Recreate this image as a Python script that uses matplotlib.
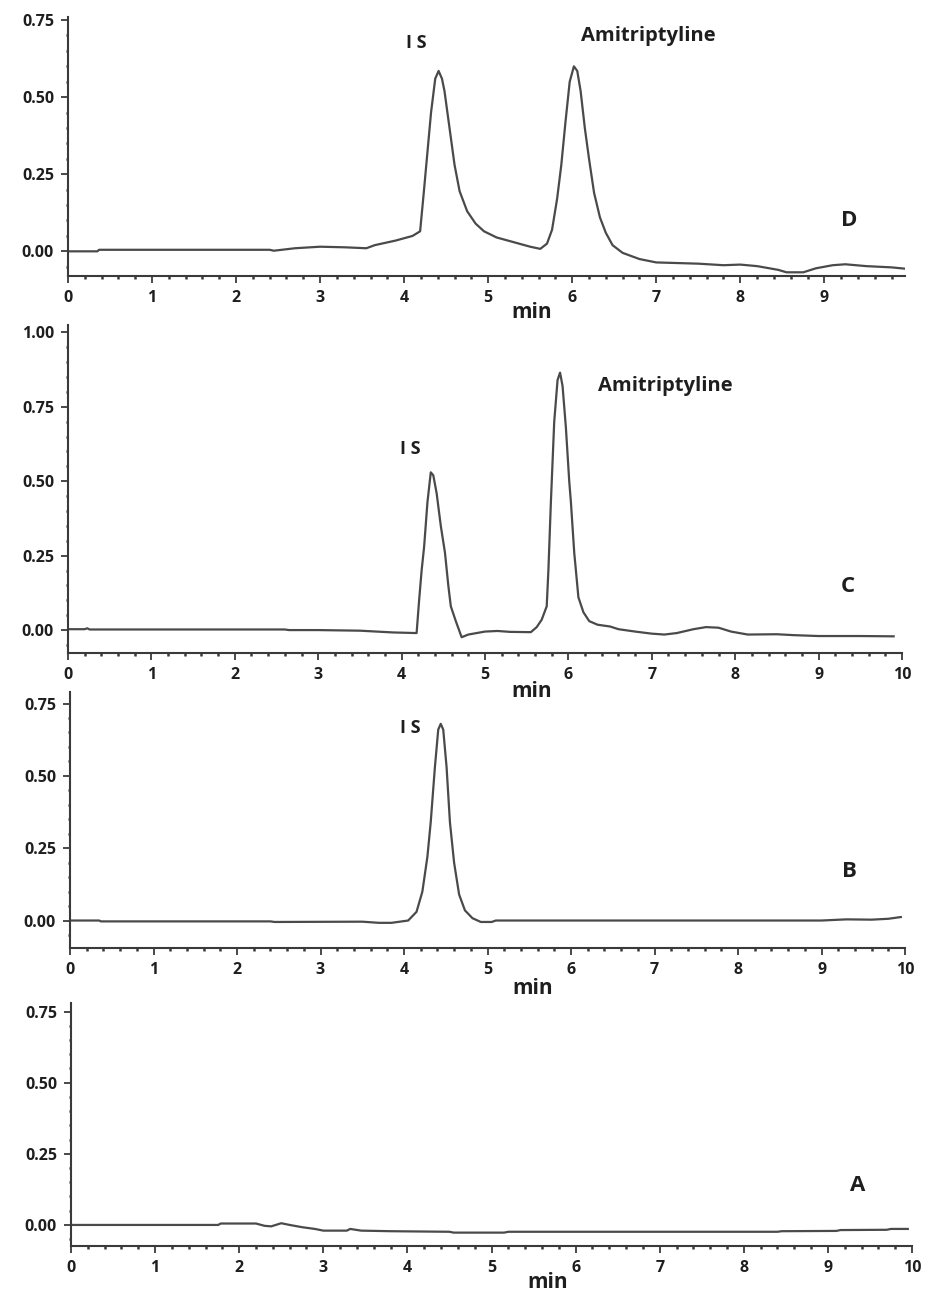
import matplotlib
matplotlib.use("Agg")
import matplotlib.pyplot as plt
from matplotlib.ticker import MultipleLocator, FormatStrFormatter

# ---------------- data ----------------
# Panel D
d_time = [0.0, 0.35, 0.37, 2.4, 2.45, 2.7, 3.0, 3.3, 3.55, 3.65, 3.9, 4.1, 4.19,
          4.23, 4.27, 4.32, 4.37, 4.41, 4.45, 4.48, 4.54, 4.60, 4.66, 4.75, 4.85,
          4.95, 5.1, 5.3, 5.5, 5.62, 5.70, 5.76, 5.82, 5.87, 5.92, 5.97, 6.02,
          6.06, 6.10, 6.15, 6.20, 6.26, 6.33, 6.40, 6.48, 6.6, 6.8, 7.0, 7.5,
          7.8, 8.0, 8.2, 8.45, 8.55, 8.75, 8.9, 9.1, 9.25, 9.5, 9.8, 9.95]
d_signal = [0.0, 0.0, 0.005, 0.005, 0.002, 0.01, 0.015, 0.013, 0.01, 0.02, 0.035, 0.05, 0.065,
            0.18, 0.30, 0.45, 0.56, 0.585, 0.56, 0.52, 0.40, 0.28, 0.195, 0.13, 0.09,
            0.065, 0.045, 0.03, 0.015, 0.008, 0.025, 0.07, 0.17, 0.28, 0.42, 0.55, 0.60,
            0.585, 0.52, 0.40, 0.30, 0.19, 0.11, 0.06, 0.02, -0.005, -0.025, -0.036, -0.04,
            -0.045, -0.043, -0.048, -0.06, -0.068, -0.068, -0.055, -0.045, -0.042, -0.048, -0.052, -0.056]

# Panel C
c_time = [0.0, 0.2, 0.23, 0.26, 2.6, 2.65, 3.0, 3.5, 3.9, 4.18, 4.21, 4.24, 4.27,
          4.31, 4.35, 4.38, 4.42, 4.47, 4.52, 4.56, 4.59, 4.65, 4.72, 4.8, 5.0,
          5.15, 5.3, 5.55, 5.62, 5.68, 5.74, 5.76, 5.79, 5.83, 5.87, 5.90, 5.93,
          5.97, 6.01, 6.03, 6.07, 6.12, 6.18, 6.25, 6.35, 6.5, 6.6, 6.8, 7.0,
          7.15, 7.3, 7.5, 7.65, 7.8, 7.95, 8.15, 8.5, 8.7, 9.0, 9.5, 9.9]
c_signal = [0.003, 0.003, 0.006, 0.002, 0.002, 0.0, 0.0, -0.002, -0.008, -0.01, 0.1, 0.2, 0.28,
            0.43, 0.53, 0.52, 0.46, 0.35, 0.26, 0.15, 0.08, 0.03, -0.024, -0.015, -0.005,
            -0.003, -0.006, -0.007, 0.01, 0.035, 0.08, 0.2, 0.43, 0.7, 0.84, 0.865, 0.82,
            0.68, 0.5, 0.43, 0.26, 0.11, 0.06, 0.03, 0.018, 0.012, 0.003, -0.005, -0.012,
            -0.015, -0.01, 0.003, 0.01, 0.008, -0.005, -0.015, -0.014, -0.017, -0.02, -0.02, -0.021]

# Panel B
b_time = [0.0, 0.35, 0.37, 2.4, 2.45, 3.5, 3.7, 3.85, 3.95, 4.05, 4.15, 4.22, 4.28,
          4.32, 4.37, 4.41, 4.44, 4.47, 4.51, 4.55, 4.60, 4.66, 4.73, 4.82, 4.92,
          5.05, 5.1, 8.0, 9.0, 9.3, 9.6, 9.8, 9.95]
b_signal = [0.0, 0.0, -0.003, -0.003, -0.005, -0.004, -0.008, -0.008, -0.004, 0.0, 0.03, 0.1, 0.22,
            0.34, 0.53, 0.66, 0.68, 0.66, 0.53, 0.34, 0.2, 0.09, 0.035, 0.008, -0.005,
            -0.005, 0.0, 0.0, 0.0, 0.004, 0.003, 0.006, 0.012]

# Panel A
a_time = [0.0, 1.75, 1.78, 2.2, 2.3, 2.38, 2.5, 2.6, 2.75, 2.9, 3.0, 3.28, 3.32,
          3.45, 3.8, 4.5, 4.55, 5.15, 5.2, 8.4, 8.45, 9.1, 9.15, 9.7, 9.75, 9.95]
a_signal = [0.0, 0.0, 0.005, 0.005, -0.003, -0.005, 0.006, 0.0, -0.008, -0.014, -0.02, -0.02, -0.014,
            -0.02, -0.022, -0.024, -0.027, -0.027, -0.024, -0.024, -0.022, -0.021, -0.018, -0.017, -0.014, -0.014]

panel_letters = ["D", "C", "B", "A"]
x_label = "min"
is_label = "I S"
ami_label = "Amitriptyline"

# ---------------- layout ----------------
W, H = 929, 1292
fig = plt.figure(figsize=(W / 100, H / 100), dpi=100)

def px_axes(left, right, top, bottom):
    return fig.add_axes([left / W, 1 - bottom / H, (right - left) / W, (bottom - top) / H])

line_col = "#4a4a4a"
spine_col = "#3a3a3a"
text_col = "#1e1e1e"
tick_family = "Open Sans"
tick_size = 11.5
ann_font = dict(family="Open Sans", weight="bold")

panels = [
    dict(t=d_time, s=d_signal, box=(68, 905, 17, 276), xlim=(0, 9.96), ylim=(-0.08, 0.76),
         ymax=0.75, letter=(9.3, 0.10), minx=5.52, mindy=36,
         is_pos=(4.15, 0.677), ami_pos=(6.9, 0.70)),
    dict(t=c_time, s=c_signal, box=(68, 902, 325, 653), xlim=(0, 10), ylim=(-0.077, 1.025),
         ymax=1.0, letter=(9.35, 0.145), minx=5.56, mindy=39,
         is_pos=(4.1, 0.61), ami_pos=(7.16, 0.82)),
    dict(t=b_time, s=b_signal, box=(70, 905, 692, 948), xlim=(0, 10), ylim=(-0.095, 0.79),
         ymax=0.75, letter=(9.34, 0.17), minx=5.54, mindy=40,
         is_pos=(4.08, 0.667), ami_pos=None),
    dict(t=a_time, s=a_signal, box=(71, 912, 1003, 1246), xlim=(0, 10), ylim=(-0.074, 0.78),
         ymax=0.75, letter=(9.36, 0.14), minx=5.67, mindy=37,
         is_pos=None, ami_pos=None),
]

for p, letter in zip(panels, panel_letters):
    ax = px_axes(*p["box"])
    ax.patch.set_visible(False)
    ax.plot(p["t"], p["s"], color=line_col, lw=1.6, solid_joinstyle="round")
    ax.set_xlim(*p["xlim"])
    for side in ("top", "right"):
        ax.spines[side].set_visible(False)
    for side in ("left", "bottom"):
        ax.spines[side].set_color(spine_col)
        ax.spines[side].set_linewidth(1.5)
    ax.xaxis.set_major_locator(MultipleLocator(1))
    ax.xaxis.set_minor_locator(MultipleLocator(0.2))
    ax.set_yticks([v * 0.25 for v in range(int(round(p["ymax"] / 0.25)) + 1)])
    ax.yaxis.set_minor_locator(MultipleLocator(0.05))
    ax.set_ylim(*p["ylim"])
    ax.yaxis.set_major_formatter(FormatStrFormatter("%.2f"))
    ax.xaxis.set_major_formatter(FormatStrFormatter("%d"))
    ax.tick_params(axis="both", which="major", direction="out", length=5, width=1.3,
                   color=spine_col, pad=5, labelsize=tick_size, labelcolor=text_col)
    ax.tick_params(axis="both", which="minor", direction="out", length=1.8, width=1.8,
                   color=spine_col)
    for lab in ax.get_xticklabels() + ax.get_yticklabels():
        lab.set_fontfamily(tick_family)
        lab.set_fontweight("bold")
    # x label "min"
    ax.annotate(x_label, xy=(p["minx"], 0), xycoords=("data", "axes fraction"),
                xytext=(0, -p["mindy"] * 0.72), textcoords="offset points",
                ha="center", va="center", fontsize=15, color=text_col, **ann_font)
    ax.text(p["letter"][0], p["letter"][1], letter, ha="center", va="center",
            fontsize=16, color=text_col, **ann_font)
    if p["is_pos"] is not None:
        ax.text(p["is_pos"][0], p["is_pos"][1], is_label, ha="center", va="center",
                fontsize=13, color=text_col, **ann_font)
    if p["ami_pos"] is not None:
        ax.text(p["ami_pos"][0], p["ami_pos"][1], ami_label, ha="center", va="center",
                fontsize=14.5, color=text_col, **ann_font)

fig.savefig("out.png", dpi=100, facecolor="white")
